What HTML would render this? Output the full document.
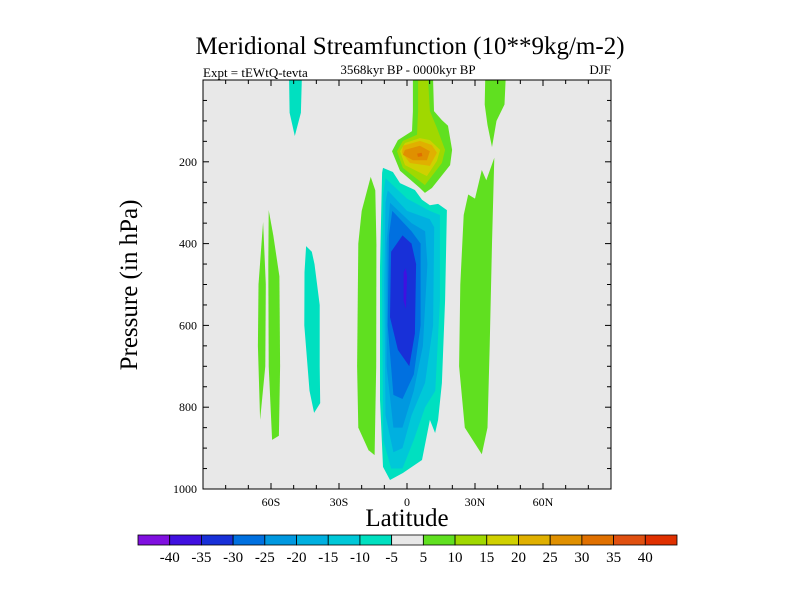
<!DOCTYPE html>
<html><head><meta charset="utf-8"><style>
body{margin:0;background:#fff}
svg text{font-family:"Liberation Serif",serif}
</style></head><body>
<svg id="chart" width="800" height="600" viewBox="0 0 800 600">
<text x="410" y="54" font-size="25" text-anchor="middle">Meridional Streamfunction (10**9kg/m-2)</text>
<text x="203" y="77" font-size="13">Expt = tEWtQ-tevta</text>
<text x="408" y="74" font-size="13" text-anchor="middle">3568kyr BP - 0000kyr BP</text>
<text x="611" y="74" font-size="13" text-anchor="end">DJF</text>
<rect x="203" y="80" width="408" height="409" fill="#e8e8e8"/>
<g id="fills"></g>
<g id="axes"></g>
<text x="407" y="526" font-size="25" text-anchor="middle">Latitude</text>
<text transform="translate(137,285) rotate(-90)" font-size="25" text-anchor="middle">Pressure (in hPa)</text>
<g id="cbar"></g>
</svg>
<script>
const latTicks=[-60,-30,0,30,60];
const latTickLabels=["60S","30S","0","30N","60N"];
const presTicks=[200,400,600,800,1000];
const cbarLabels=["-40","-35","-30","-25","-20","-15","-10","-5","5","10","15","20","25","30","35","40"];
const cbarColors=["#8010e0","#4010e0","#1830d8","#0070e0","#0098e0","#00b0e0","#00c8d8","#00e0c0","#e8e8e8","#60e020","#a0d800","#d0d000","#e0b000","#e09000","#e07000","#e05010","#e03000"];
// contour polygons: [lat, pressure]
const greenA=[[-63.5,347],[-65.5,500],[-65.8,650],[-64.8,831],[-62.5,700],[-62.3,500]];
const greenB=[[-61,318],[-59,380],[-56.3,480],[-56,700],[-56.5,870],[-59.5,880],[-61,700],[-61.2,450]];
const tealC=[[-44.5,406],[-42,420],[-40.8,450],[-38.5,550],[-38.5,700],[-38.3,790],[-41,814],[-43,760],[-45.3,600],[-45.2,470]];
const tealD=[[-52,0],[-46.4,0],[-46.8,80],[-49.5,137],[-51.8,80]];
const greenE=[[-16,237],[-14,270],[-13.5,400],[-13.6,700],[-14.3,917],[-17,905],[-21.5,850],[-22,700],[-21.5,400],[-20,320]];
const greenNtop=[[34.5,0],[43.5,0],[43,60],[39.5,100],[37.5,164],[35.5,110],[34.3,60]];
const greenN=[[38.5,190],[37.5,400],[36.5,650],[35.5,850],[33,915],[25.5,850],[23,700],[23.5,500],[25,330],[27,280],[30,290],[33,220],[35,245]];
const neg5=[[-10.6,215],[-6.2,225],[-3.1,252],[3.5,269],[6.6,293],[10.1,306],[13.7,303],[17.6,318],[16.8,538],[15.4,741],[13.7,831],[12.4,863],[10.1,831],[6.6,929],[-1.8,961],[-7.5,978],[-10.6,946],[-11.9,782],[-11.9,457],[-11,227]];
const neg10=[[-9.5,240],[0,290],[10,320],[14.5,330],[14.5,540],[12.5,760],[8,800],[3,880],[-2,950],[-7,950],[-10.5,880],[-11,500],[-10.5,280]];
const neg15=[[-8.5,270],[0,320],[10,340],[12,360],[11.5,600],[8,740],[2,820],[-2,900],[-6,910],[-9.5,820],[-10,500],[-9.5,300]];
const neg20=[[-7.5,300],[2,350],[8,370],[9,450],[7,650],[3,760],[-2,850],[-6,850],[-9,700],[-9,400]];
const neg25=[[-6.5,320],[2,370],[6,400],[6,600],[3,720],[-2,780],[-6,770],[-8.5,600],[-8,380]];
const neg30=[[-2,380],[2,400],[4,450],[3.5,620],[1,700],[-4,660],[-7.5,580],[-7,420]];
const neg35=[[-0.5,460],[0,480],[-0.5,560],[-1.5,540],[-1.5,470]];
const pos5=[[2.6,0],[11.5,0],[11.9,76],[15.4,98],[18.1,112],[19.9,171],[19,208],[11,264],[7.9,276],[5.7,264],[-3.1,222],[-6.6,174],[-4,147],[2.2,125],[2.6,76]];
const pos10=[[4.9,0],[9.3,0],[10.1,76],[13.2,117],[16.8,171],[15.4,203],[9.3,247],[7.9,257],[-1.8,215],[-4.4,174],[-1.8,149],[4.4,134],[4.9,76]];
const pos15=[[-0.9,154],[5.7,142],[10.1,147],[14.6,171],[13.2,198],[8.8,235],[-0.9,208],[-3.1,174]];
const pos20=[[-1.8,161],[5.7,149],[11,159],[13.2,178],[10.1,210],[1.3,203],[-2.2,178]];
const pos25=[[-0.9,171],[5.7,161],[10.1,174],[8.8,196],[2.6,196],[-1.8,183]];
const pos30=[[4.5,180],[6.5,178],[6.8,186],[4.8,188]];
const layers=[[greenA,9],[greenB,9],[tealC,7],[tealD,7],[greenE,9],[greenNtop,9],[greenN,9],
 [neg5,7],[neg10,6],[neg15,5],[neg20,4],[neg25,3],[neg30,2],[neg35,1],
 [pos5,9],[pos10,10],[pos15,11],[pos20,12],[pos25,13],[pos30,14]];
const names=["green-60s-a","green-60s-b","teal-40s","teal-50s-top","green-20s","green-40n-top","green-30n",
 "neg-5","neg-10","neg-15","neg-20","neg-25","neg-30","neg-35","pos-5","pos-10","pos-15","pos-20","pos-25","pos-30"];
const X0=203,X1=611,Y0=80,Y1=489;
const xs=l=>X0+(l+90)/180*(X1-X0);
const ys=p=>Y0+p/1000*(Y1-Y0);
const NS="http://www.w3.org/2000/svg";
const fills=document.getElementById('fills');
layers.forEach((L,i)=>{
 const pg=document.createElementNS(NS,'polygon');
 pg.setAttribute('points',L[0].map(d=>xs(d[0]).toFixed(1)+','+ys(d[1]).toFixed(1)).join(' '));
 pg.setAttribute('fill',cbarColors[L[1]]);
 
 
 fills.appendChild(pg);
});
const ax=document.getElementById('axes');
function add(tag,attrs,txt){const e=document.createElementNS(NS,tag);for(const k in attrs)e.setAttribute(k,attrs[k]);if(txt!==undefined)e.textContent=txt;ax.appendChild(e);return e;}
const fr=add('rect',{x:X0,y:Y0,width:X1-X0,height:Y1-Y0,fill:'none',stroke:'#000','stroke-width':1});


for(let l=-80;l<=80;l+=10){
 const big=latTicks.includes(l);const len=big?6:4;
 add('line',{x1:xs(l),x2:xs(l),y1:Y1,y2:Y1-len,stroke:'#000'});
 add('line',{x1:xs(l),x2:xs(l),y1:Y0,y2:Y0+len,stroke:'#000'});
}
latTicks.forEach((l,i)=>{
 const t=add('text',{x:xs(l),y:Y1+17,'font-size':12,'text-anchor':'middle'},latTickLabels[i]);
 
 
});
for(let p=50;p<1000;p+=50){
 const big=p%200===0;const len=big?6:4;
 add('line',{x1:X0,x2:X0+len,y1:ys(p),y2:ys(p),stroke:'#000'});
 add('line',{x1:X1,x2:X1-len,y1:ys(p),y2:ys(p),stroke:'#000'});
}
presTicks.forEach(p=>{
 const t=add('text',{x:X0-6,y:ys(p)+4,'font-size':12,'text-anchor':'end'},String(p));
 
 
});
const cb=document.getElementById('cbar');
const CX0=138,CX1=677,CY=535,CH=10,bw=(CX1-CX0)/cbarColors.length;
cbarColors.forEach((c,i)=>{
 const r=document.createElementNS(NS,'rect');
 r.setAttribute('x',CX0+i*bw);r.setAttribute('y',CY);r.setAttribute('width',bw);r.setAttribute('height',CH);
 r.setAttribute('fill',c);r.setAttribute('stroke','#000');r.setAttribute('stroke-width','0.8');
 
 
 cb.appendChild(r);
});
cbarLabels.forEach((s,i)=>{
 const t=document.createElementNS(NS,'text');
 t.setAttribute('x',CX0+(i+1)*bw);t.setAttribute('y',CY+27);t.setAttribute('font-size','15');t.setAttribute('text-anchor','middle');
 t.textContent=s;
 
 
 cb.appendChild(t);
});
</script>
</body></html>
